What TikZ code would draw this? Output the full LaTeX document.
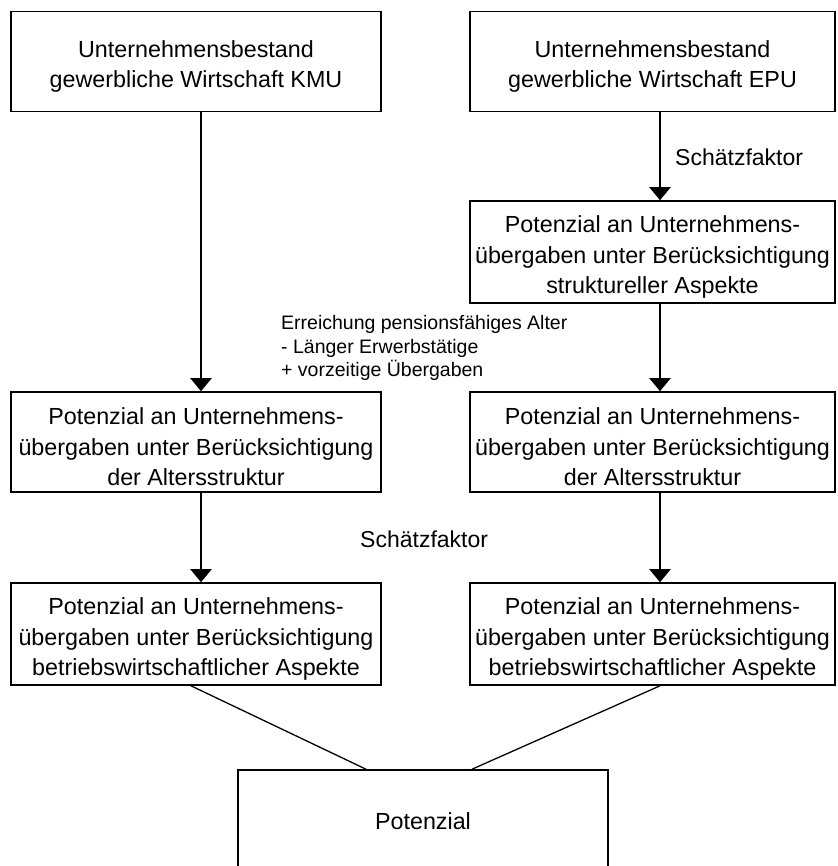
\documentclass[tikz,border=0pt]{standalone}
\usepackage{fontspec}
\setmainfont{Liberation Sans}
\usetikzlibrary{arrows.meta}
\begin{document}
\begin{tikzpicture}[x=1pt,y=-1pt,
  box/.style={draw, line width=1.6pt, minimum height=100pt, inner sep=0pt},
  leftbox/.style={box, minimum width=370pt},
  rightbox/.style={box, minimum width=365pt},
  txt/.style={align=center, inner sep=0pt, font=\fontsize{23.3}{30.5}\selectfont},
  flow/.style={line width=2.2pt, -{Triangle[width=21pt,length=13pt]}},
  joinline/.style={line width=1.3pt},
  lbl/.style={font=\fontsize{23}{28}\selectfont, anchor=west, inner sep=0pt},
  note/.style={font=\fontsize{19.5}{23.5}\selectfont, align=left, anchor=west, inner sep=0pt}]
\useasboundingbox (0,0) rectangle (837,866);
\clip (0,0) rectangle (837,866);

% top row
\node[leftbox]  (tl) at (196,61.5) {};
\node[txt] (tlt) at ([yshift=-5pt]tl.center) {Unternehmensbestand\\gewerbliche Wirtschaft KMU};
\node[rightbox] (tr) at (652.5,61.5) {};
\node[txt] (trt) at ([yshift=-5pt]tr.center) {Unternehmensbestand\\gewerbliche Wirtschaft EPU};

% structural aspects (EPU only)
\node[rightbox, minimum height=102pt] (r1) at (652.5,252) {};
\node[txt] (r1t) at ([yshift=-5pt]r1.center)
  {Potenzial an Unternehmens-\\übergaben unter Berücksichtigung\\struktureller Aspekte};

% age structure
\node[leftbox]  (l2) at (196,442) {};
\node[txt] (l2t) at ([yshift=-5pt]l2.center)
  {Potenzial an Unternehmens-\\übergaben unter Berücksichtigung\\der Altersstruktur};
\node[rightbox] (r2) at (652.5,442) {};
\node[txt] (r2t) at ([yshift=-5pt]r2.center)
  {Potenzial an Unternehmens-\\übergaben unter Berücksichtigung\\der Altersstruktur};

% business aspects
\node[leftbox, minimum height=102pt]  (l3) at (196,634) {};
\node[txt] (l3t) at ([yshift=-5pt]l3.center)
  {Potenzial an Unternehmens-\\übergaben unter Berücksichtigung\\betriebswirtschaftlicher Aspekte};
\node[rightbox, minimum height=102pt] (r3) at (652.5,634) {};
\node[txt] (r3t) at ([yshift=-5pt]r3.center)
  {Potenzial an Unternehmens-\\übergaben unter Berücksichtigung\\betriebswirtschaftlicher Aspekte};

% total, running off the lower edge
\node[leftbox, minimum height=110pt] (pot) at (423,825) {};
\node[txt] (pott) at (423,821) {Potenzial};

% arrows
\draw[flow] ([xshift=5pt]tl.south) -- ([xshift=5pt]l2.north);
\draw[flow] ([xshift=7.5pt]tr.south) -- ([xshift=7.5pt]r1.north);
\draw[flow] ([xshift=7.5pt]r1.south) -- ([xshift=7.5pt]r2.north);
\draw[flow] ([xshift=5pt]l2.south) -- ([xshift=5pt]l3.north);
\draw[flow] ([xshift=7.5pt]r2.south) -- ([xshift=7.5pt]r3.north);

% joining lines
\draw[joinline] ([xshift=-5pt]l3.south) -- ([xshift=-57pt]pot.north);
\draw[joinline] ([xshift=7.5pt]r3.south) -- ([xshift=49pt]pot.north);

% labels
\node[lbl] (sf1) at (675,157) {Schätzfaktor};
\node[lbl] (sf2) at (360,539) {Schätzfaktor};
\node[note] (age) at (281,348)
  {Erreichung pensionsfähiges Alter\\- Länger Erwerbstätige\\+ vorzeitige Übergaben};
\end{tikzpicture}
\end{document}
